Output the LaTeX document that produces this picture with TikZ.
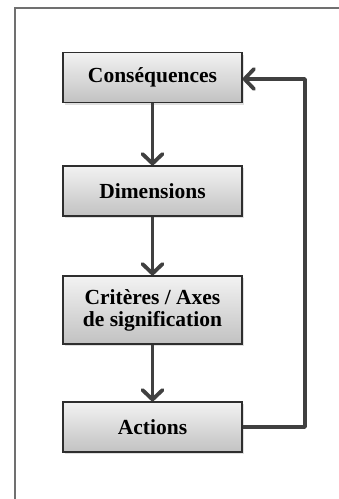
\documentclass[tikz,border=0pt]{standalone}
\usepackage{fontspec}
\setmainfont{Liberation Serif}
\usetikzlibrary{arrows.meta,shadows}
\definecolor{boxline}{HTML}{2E2E2E}
\definecolor{flowline}{HTML}{404040}
\definecolor{frameline}{HTML}{707070}
\begin{document}
\begin{tikzpicture}[x=1pt,y=-1pt,
  stepbox/.style={draw=boxline, line width=1.2pt, rectangle,
    minimum width=179pt, minimum height=50pt, inner sep=0pt,
    top color=black!5, bottom color=black!24,
    drop shadow={opacity=0.25, shadow xshift=2pt, shadow yshift=-2pt},
    font=\fontsize{21.5}{22}\selectfont\bfseries, align=center},
  flow/.style={draw=flowline, line width=3.8pt,
    -{Straight Barb[length=9.5pt,width=20pt,line width=3.8pt,round]}}]
\useasboundingbox (0,0) rectangle (339,499);
% open frame: left and top edges only
\draw[frameline, line width=1.5pt] (15,499) -- (15,8) -- (339,8);
% process steps
\node[stepbox] (cons) at (152.5,77.5) {Conséquences};
\node[stepbox] (dim) at (152.5,191) {Dimensions};
\node[stepbox, minimum height=68pt] (crit) at (152.5,310) {Critères / Axes\\de signification};
\node[stepbox] (act) at (152.5,427) {Actions};
% connectors
\draw[flow] (cons) -- (dim);
\draw[flow] (dim) -- (crit);
\draw[flow] (crit) -- (act);
\coordinate (loopbot) at (305,427);
\coordinate (looptop) at (305,79);
\draw[flow, line join=round] (act.east) -- (loopbot) -- (looptop) -- (cons.east |- looptop);
\end{tikzpicture}
\end{document}
